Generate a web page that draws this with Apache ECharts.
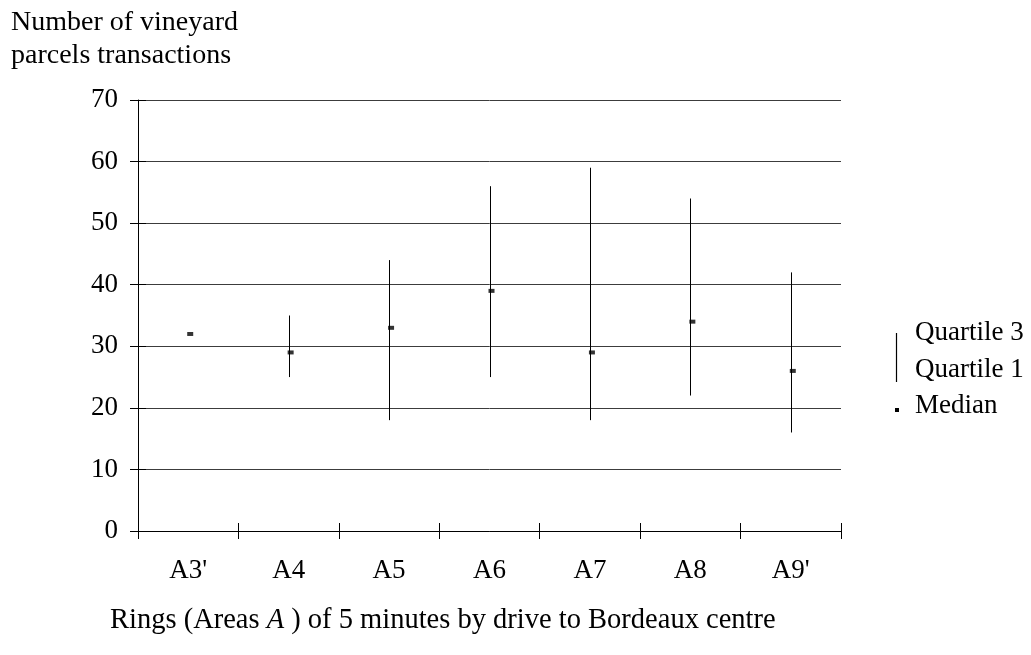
<!DOCTYPE html>
<html>
<head>
<meta charset="utf-8">
<script src="https://cdn.jsdelivr.net/npm/echarts@6/dist/echarts.min.js"></script>
<style>
html,body{margin:0;padding:0;background:#fff;}
#chart{width:1031px;height:655px;}
</style>
</head>
<body>
<div id="chart"></div>
<script>
const categories = ["A3'", "A4", "A5", "A6", "A7", "A8", "A9'"];
const quartile3 = [null, 35, 44, 56, 59, 54, 42];
const quartile1 = [null, 25, 18, 25, 18, 22, 16];
const medians = [32, 29, 33, 39, 29, 34, 26];
const yTitle = "Number of vineyard\nparcels transactions";
const xTitleParts = ["Rings (Areas ", "A", " ) of 5 minutes by drive to Bordeaux centre"];
const legendLabels = ["Quartile 3", "Quartile 1", "Median"];

const FONT = "'Liberation Serif', 'Times New Roman', serif";
const FS = 27;

const rangeData = [];
categories.forEach((c, i) => {
  if (quartile1[i] != null && quartile3[i] != null) rangeData.push([i, quartile1[i], quartile3[i]]);
});
const medianData = medians.map((m, i) => [i, m]);

const chart = echarts.init(document.getElementById('chart'), null, {renderer: 'canvas'});
const grid = {left: 138, right: 190, top: 100, bottom: 124, containLabel: false};

chart.setOption({
  animation: false,
  backgroundColor: '#ffffff',
  textStyle: {fontFamily: FONT},
  title: {
    text: yTitle,
    left: 6, top: 1,
    textStyle: {fontFamily: FONT, fontSize: 28, fontWeight: 'normal', color: '#000', lineHeight: 33}
  },
  grid: grid,
  xAxis: [{
    type: 'category', data: categories, boundaryGap: true, position: 'bottom',
    axisLine: {show: true, lineStyle: {color: '#000', width: 1}},
    axisTick: {show: true, inside: false, length: 8, alignWithLabel: false, lineStyle: {color: '#000'}},
    axisLabel: {fontFamily: FONT, fontSize: FS, color: '#000', margin: 26},
    splitLine: {show: false}
  }, {
    type: 'category', data: categories, boundaryGap: true, position: 'bottom',
    axisLine: {show: false},
    axisTick: {show: true, inside: true, length: 8, lineStyle: {color: '#000'}},
    axisLabel: {show: false},
    splitLine: {show: false}
  }],
  yAxis: [{
    type: 'value', min: 0, max: 70, interval: 10,
    axisLine: {show: true, lineStyle: {color: '#000', width: 1}},
    axisTick: {show: true, inside: false, length: 8, lineStyle: {color: '#000'}},
    axisLabel: {fontFamily: FONT, fontSize: FS, color: '#000', margin: 20},
    splitLine: {show: true, lineStyle: {color: '#3c3c3c', width: 1}}
  }, {
    type: 'value', min: 0, max: 70, interval: 10, position: 'left',
    axisLine: {show: false},
    axisTick: {show: true, inside: true, length: 8, lineStyle: {color: '#000'}},
    axisLabel: {show: false},
    splitLine: {show: false}
  }],
  series: [{
    type: 'custom',
    name: 'Quartiles',
    xAxisIndex: 0, yAxisIndex: 0,
    data: rangeData,
    renderItem: function (params, api) {
      const p1 = api.coord([api.value(0), api.value(1)]);
      const p3 = api.coord([api.value(0), api.value(2)]);
      const x = Math.round(p1[0]) + 0.5;
      return {
        type: 'line',
        shape: {x1: x, y1: p1[1], x2: x, y2: p3[1]},
        style: {stroke: '#000', lineWidth: 1}
      };
    },
    z: 3
  }, {
    type: 'scatter',
    name: 'Median',
    xAxisIndex: 0, yAxisIndex: 0,
    data: medianData,
    symbol: 'rect',
    symbolSize: [6, 4],
    symbolOffset: [2, 0],
    itemStyle: {color: '#000'},
    z: 4
  }],
  graphic: [
    {type: 'line', shape: {x1: 896.5, y1: 333, x2: 896.5, y2: 382}, style: {stroke: '#000', lineWidth: 1.2}},
    {type: 'rect', shape: {x: 895, y: 408, width: 4, height: 4}, style: {fill: '#000'}},
    {type: 'text', left: 915, top: 319, style: {text: legendLabels[0], font: FS + 'px ' + FONT, fill: '#000'}},
    {type: 'text', left: 915, top: 356, style: {text: legendLabels[1], font: FS + 'px ' + FONT, fill: '#000'}},
    {type: 'text', left: 915, top: 392, style: {text: legendLabels[2], font: FS + 'px ' + FONT, fill: '#000'}},
    {type: 'text', left: 110, top: 606, style: {
      text: '{n|' + xTitleParts[0] + '}{i|' + xTitleParts[1] + '}{n|' + xTitleParts[2] + '}',
      rich: {
        n: {fontFamily: FONT, fontSize: 28.5, color: '#000'},
        i: {fontFamily: FONT, fontSize: 28.5, fontStyle: 'italic', color: '#000'}
      }
    }}
  ]
});
</script>
</body>
</html>
